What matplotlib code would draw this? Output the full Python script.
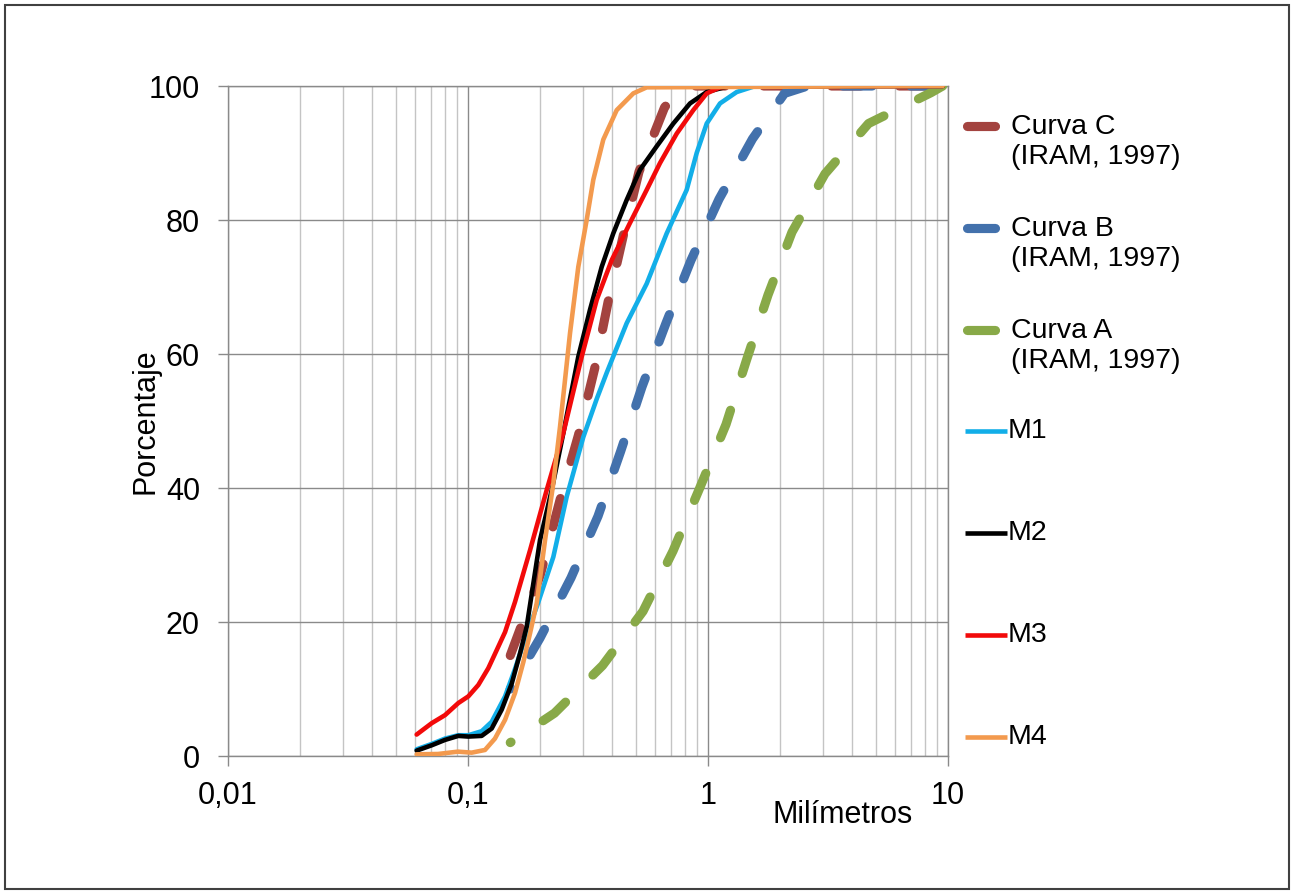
import matplotlib
matplotlib.use("Agg")
import matplotlib.pyplot as plt
from matplotlib.lines import Line2D
from matplotlib.patches import Rectangle
from matplotlib.ticker import LogLocator, NullFormatter

plt.rcParams['font.family'] = ['Liberation Sans', 'DejaVu Sans']

# grading curves (mm, % passing)
curva_c_mm = [0.15, 0.20, 0.2417, 0.2886, 0.337, 0.3831, 0.4445, 0.5158, 0.6589, 0.75, 0.85, 1.18, 2.36, 4.75, 9.5]
curva_c_pct = [15, 27, 38.2, 47.9, 57.8, 67.7, 77.8, 87.2, 96.8, 99.3, 100, 100, 100, 100, 100]

curva_b_mm = [0.15, 0.1995, 0.2687, 0.3482, 0.4319, 0.5309, 0.6683, 0.8496, 1.111, 1.532, 2.084, 2.6, 4.75, 9.5]
curva_b_pct = [10, 17.6, 26.6, 35.8, 45.4, 55.1, 64.6, 74.0, 83.1, 92.1, 98.9, 100, 100, 100]

curva_a_mm = [0.15, 0.2293, 0.3635, 0.536, 0.715, 0.9261, 1.189, 1.447, 1.778, 2.239, 3.073, 4.666, 8.49, 9.5]
curva_a_pct = [2, 6.4, 13.5, 21.6, 30.6, 40.1, 49.5, 59.1, 68.8, 78.2, 86.9, 94.4, 99.0, 100]

m1_mm = [0.0611, 0.0706, 0.0802, 0.0911, 0.1003, 0.1140, 0.1255, 0.1427, 0.1570, 0.1728, 0.1957,
         0.2267, 0.2578, 0.3023, 0.3439, 0.3784, 0.4584, 0.5554, 0.6728, 0.8152, 0.8972, 0.9877,
         1.122, 1.317, 1.545, 2.0, 9.5]
m1_pct = [1.0, 1.8, 2.6, 3.1, 3.1, 3.7, 5.1, 8.9, 13, 17.5, 22.8, 29.7, 38.7, 47.6, 53.3, 57.2,
          64.6, 70.5, 78, 84.5, 90, 94.4, 97.4, 99.1, 99.9, 100, 100]

m2_mm = [0.0611, 0.0706, 0.0802, 0.0911, 0.1003, 0.1140, 0.1255, 0.1381, 0.1521, 0.1647, 0.1756,
         0.1995, 0.2233, 0.2496, 0.2881, 0.3223, 0.3606, 0.4030, 0.4584, 0.5210, 0.6113, 0.7170,
         0.8414, 0.9877, 1.196, 9.5]
m2_pct = [0.8, 1.6, 2.4, 3.0, 2.9, 3.0, 4.1, 6.9, 10.8, 15.3, 19.3, 32.2, 39.7, 48.2, 59.6, 66.6,
          73, 78, 83, 87.5, 91, 94.4, 97.4, 99.1, 99.9, 100]

m3_mm = [0.0611, 0.0706, 0.0802, 0.0911, 0.1003, 0.1104, 0.1215, 0.1317, 0.1427, 0.1570, 0.1813,
         0.2128, 0.2496, 0.2977, 0.3439, 0.3969, 0.4706, 0.5554, 0.631, 0.7408, 0.8685, 0.9877,
         1.122, 1.3, 9.5]
m3_pct = [3.2, 4.9, 6.1, 7.9, 8.9, 10.6, 13.1, 15.8, 18.5, 23, 30.7, 39.7, 48.2, 59.6, 68.1, 74,
          79.4, 84.5, 88.5, 92.9, 96.4, 98.9, 99.8, 100, 100]

m4_mm = [0.0611, 0.0750, 0.0908, 0.1036, 0.1177, 0.1295, 0.1427, 0.1570, 0.1700, 0.1813, 0.1933,
         0.2094, 0.2267, 0.2417, 0.2661, 0.2881, 0.3122, 0.3327, 0.3662, 0.4165, 0.4885, 0.5554, 9.5]
m4_pct = [0.25, 0.3, 0.65, 0.5, 0.9, 2.6, 5.4, 9.4, 14, 18.3, 22.8, 32.2, 40.7, 49.1, 63.1, 73,
          80, 86, 92, 96.4, 98.9, 99.8, 100]

x_ticks = [0.01, 0.1, 1, 10]
x_tick_labels = ['0,01', '0,1', '1', '10']
y_ticks = [0, 20, 40, 60, 80, 100]

# label, x, y, colour, dash offset (None = solid line)
series = [
    ('Curva C\n(IRAM, 1997)', curva_c_mm, curva_c_pct, '#A3433F', 0.0),
    ('Curva B\n(IRAM, 1997)', curva_b_mm, curva_b_pct, '#4371AC', 3.1),
    ('Curva A\n(IRAM, 1997)', curva_a_mm, curva_a_pct, '#88A948', 3.1),
    ('M1', m1_mm, m1_pct, '#12AEE8', None),
    ('M2', m2_mm, m2_pct, '#000000', None),
    ('M3', m3_mm, m3_pct, '#F20A0A', None),
    ('M4', m4_mm, m4_pct, '#F39A4E', None),
]

W, H = 1294, 894
fig = plt.figure(figsize=(W / 100, H / 100), dpi=100)
ax = fig.add_axes([228 / W, 1 - 756 / H, 720 / W, 670 / H])

grid_major = '#8a8a8a'
grid_minor = '#c4c4c4'

for label, xs, ys, col, off in series:
    if off is not None:
        ax.plot(xs, ys, color=col, lw=6.6, linestyle=(off, (3.2, 4.2)),
                dash_capstyle='round', solid_capstyle='round', zorder=3)
    else:
        ax.plot(xs, ys, color=col, lw=3.3, solid_joinstyle='round',
                solid_capstyle='round', zorder=4)

ax.set_xscale('log')
ax.set_xlim(0.01, 10)
ax.set_ylim(0, 100)
ax.set_xticks(x_ticks, labels=x_tick_labels)
ax.xaxis.set_minor_locator(LogLocator(base=10, subs=range(2, 10)))
ax.xaxis.set_minor_formatter(NullFormatter())
ax.set_yticks(y_ticks)

ax.grid(True, which='major', color=grid_major, lw=1.0, zorder=0)
ax.grid(True, which='minor', axis='x', color=grid_minor, lw=1.0, zorder=0)
ax.set_axisbelow(True)
for s in ax.spines.values():
    s.set_color(grid_major)
    s.set_linewidth(1.0)

ax.tick_params(axis='both', which='major', length=7.2, width=1, color=grid_major, labelsize=22)
ax.tick_params(axis='x', which='major', pad=11)
ax.tick_params(axis='y', which='major', pad=13)
ax.tick_params(axis='x', which='minor', length=0)

ax.set_xlabel('Milímetros', fontsize=22)
ax.xaxis.set_label_coords(0.853, -0.066)
ax.set_ylabel('Porcentaje', fontsize=22)
ax.yaxis.set_label_coords(-0.094, 0.5)

# legend drawn by hand so the handle sits on the first text line
def fx(px):
    return px / W

def fy(py):
    return 1 - py / H

for i, (label, xs, ys, col, off) in enumerate(series):
    y = 126 + 101.8 * i
    if off is not None:
        fig.add_artist(Line2D([fx(967), fx(995)], [fy(y), fy(y)], color=col, lw=6.6,
                              solid_capstyle='round'))
        fig.text(fx(1011), fy(y + 16), label, fontsize=20.5, va='center', ha='left',
                 linespacing=1.2)
    else:
        fig.add_artist(Line2D([fx(965), fx(1007)], [fy(y), fy(y)], color=col, lw=3.3,
                              solid_capstyle='butt'))
        fig.text(fx(1008), fy(y), label, fontsize=20.5, va='center', ha='left')

fig.add_artist(Rectangle((fx(5), fy(889)), fx(1284), 884 / H, fill=False,
                         edgecolor='#404040', lw=1.5, transform=fig.transFigure))

fig.savefig('out.png', dpi=100)
